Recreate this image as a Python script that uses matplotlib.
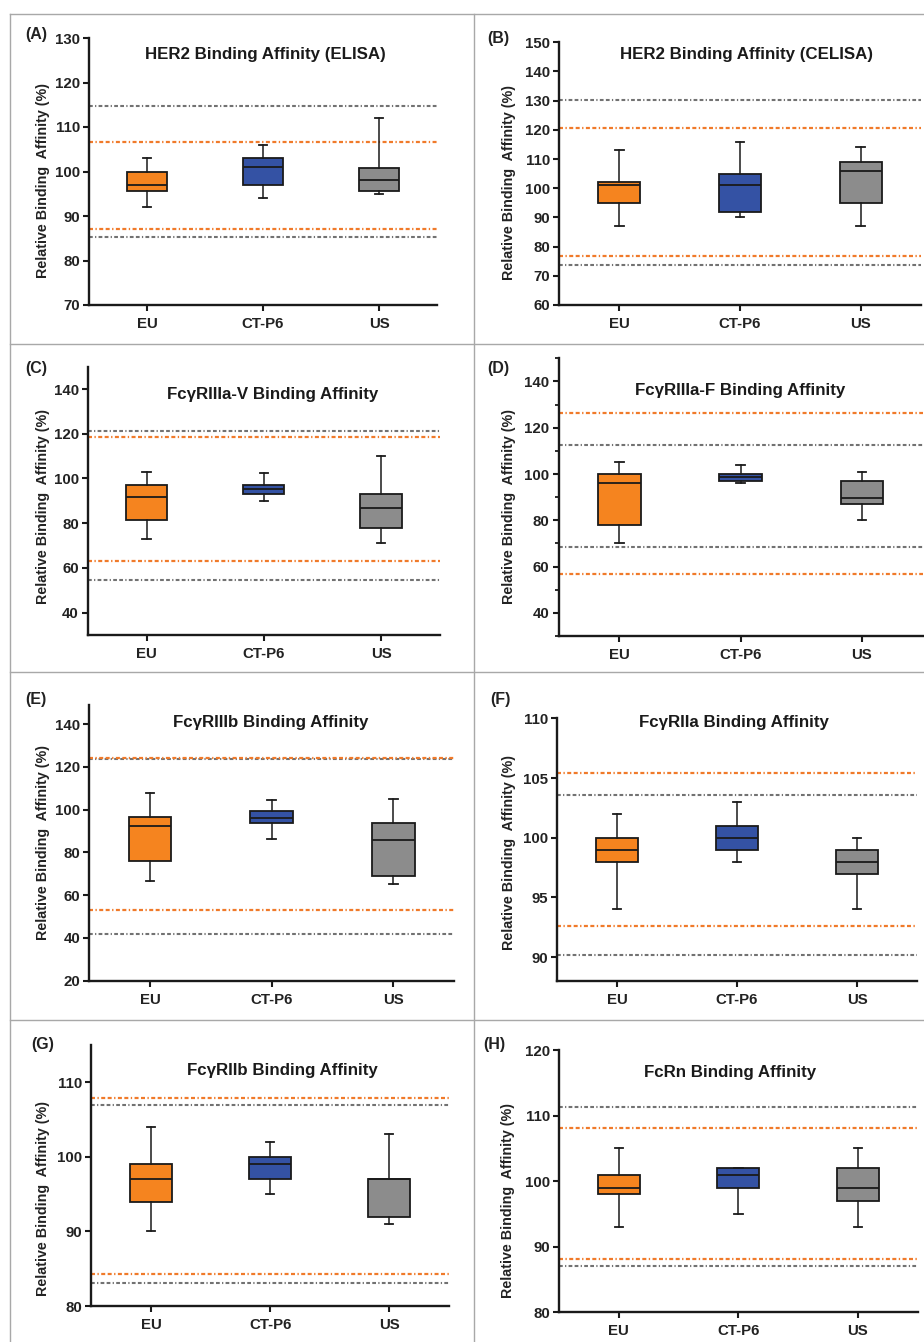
import matplotlib
matplotlib.use("Agg")
import matplotlib.pyplot as plt
from matplotlib.lines import Line2D
from matplotlib.ticker import MultipleLocator

plt.rcParams['font.family'] = ['Liberation Sans', 'DejaVu Sans']

# ---------------- data ----------------
categories = ["EU", "CT-P6", "US"]
panel_labels = ["(A)", "(B)", "(C)", "(D)", "(E)", "(F)", "(G)", "(H)"]
titles = ["HER2 Binding Affinity (ELISA)", "HER2 Binding Affinity (CELISA)",
          "Fc\u03b3RIIIa-V Binding Affinity", "Fc\u03b3RIIIa-F Binding Affinity",
          "Fc\u03b3RIIIb Binding Affinity", "Fc\u03b3RIIa Binding Affinity",
          "Fc\u03b3RIIb Binding Affinity", "FcRn Binding Affinity"]
y_label = "Relative Binding  Affinity (%)"

# box stats per category: [whisker low, Q1, median, Q3, whisker high]
stats_A = [[92, 95.7, 97, 100, 103], [94, 97, 101, 103, 106], [95, 95.7, 98, 100.8, 112]]
stats_B = [[87, 95, 101, 102, 113], [90, 92, 101, 105, 116], [87, 95, 106, 109, 114]]
stats_C = [[73, 81.5, 91.5, 97, 103], [90, 93.2, 95.1, 97, 102.5], [71, 78, 87, 93, 110]]
stats_D = [[70, 78, 96, 100, 105], [96, 97, 98.7, 100, 104], [80, 87, 89.5, 97, 101]]
stats_E = [[66.6, 76, 92.6, 96.5, 107.6], [86.5, 93.6, 96, 99.3, 104.5], [65.4, 68.8, 85.6, 93.6, 105.2]]
stats_F = [[94, 98, 99, 100, 102], [98, 99, 100, 101, 103], [94, 97, 98, 99, 100]]
stats_G = [[90, 94, 97, 99, 104], [95, 97, 99, 100, 102], [91, 92, 97, 97, 103]]
stats_H = [[93, 98, 99, 101, 105], [95, 99, 101, 102, 102], [93, 97, 99, 102, 105]]

# reference range lines (upper, lower)
orange_A = [106.7, 87.0];  gray_A = [114.7, 85.3]
orange_B = [120.8, 76.7];  gray_B = [130.2, 73.7]
orange_C = [118.4, 62.9];  gray_C = [121.2, 54.6]
orange_D = [126.4, 56.7];  gray_D = [112.5, 68.4]
orange_E = [124.3, 53.0];  gray_E = [123.6, 41.8]
orange_F = [105.4, 92.6];  gray_F = [103.6, 90.2]
orange_G = [107.85, 84.3]; gray_G = [106.9, 83.1]
orange_H = [108.1, 88.2];  gray_H = [111.3, 87.0]

all_stats = [stats_A, stats_B, stats_C, stats_D, stats_E, stats_F, stats_G, stats_H]
all_orange = [orange_A, orange_B, orange_C, orange_D, orange_E, orange_F, orange_G, orange_H]
all_gray = [gray_A, gray_B, gray_C, gray_D, gray_E, gray_F, gray_G, gray_H]

# ---------------- layout (pixels) ----------------
W, H = 924, 1342
# left, right, top, bottom of axes in pixels
ax_px = [(89, 437, 38, 305), (559, 921, 42.3, 305),
         (88, 439.6, 366.7, 635), (558.6, 922.6, 358.3, 636),
         (89.2, 454.2, 705, 980.7), (557, 917, 718.3, 981),
         (91.4, 448.9, 1045, 1306), (558.9, 917.8, 1050, 1312.3)]
ylims = [(70, 130), (60, 150), (30, 150), (30, 150), (20, 149), (88, 110), (80, 115), (80, 120)]
yticks = [range(70, 131, 10), range(60, 151, 10), range(40, 141, 20), range(40, 141, 20),
          range(20, 141, 20), range(90, 111, 5), range(80, 111, 10), range(80, 121, 10)]
minor = [None, None, None, 10, None, None, None, None]
label_px = [(36, 35), (498, 38), (36, 369), (498, 369), (36, 699), (500, 699), (43, 1045), (494, 1044)]
title_px = [(265, 55), (747, 54), (273, 394), (740, 391), (271, 722), (734, 722), (282, 1070), (730, 1072)]
ylabel_px = [(43, 180), (509, 182), (43, 507), (509, 507), (43, 842), (509, 853), (43, 1198), (508, 1200)]

box_colors = ["#F5841F", "#3452A4", "#8C8C8C"]
orange_line = "#F07A2A"
gray_line = "#727272"
ink = "#1A1A1A"

fig = plt.figure(figsize=(W / 100, H / 100), dpi=100)

# panel frame lines
frame_col = "#A8A8A8"
for yy in [13.5, 344, 672, 1020]:
    fig.add_artist(Line2D([9.5 / W, 1], [1 - yy / H, 1 - yy / H], color=frame_col, lw=1.0))
for xx in [9.5, 473.5]:
    fig.add_artist(Line2D([xx / W, xx / W], [1 - 13.5 / H, 0], color=frame_col, lw=1.0))

dash = (0, (1.8, 1.1, 0.6, 1.1, 1.8, 1.1))

for i in range(8):
    l, r, t, b = ax_px[i]
    ax = fig.add_axes([l / W, 1 - b / H, (r - l) / W, (b - t) / H])
    stats = []
    for j, cat in enumerate(categories):
        s = all_stats[i][j]
        stats.append(dict(whislo=s[0], q1=s[1], med=s[2], q3=s[3], whishi=s[4], fliers=[], label=cat))
    bp = ax.bxp(stats, positions=[0, 1, 2], widths=0.35, patch_artist=True, showfliers=False,
                capwidths=0.07,
                boxprops=dict(edgecolor=ink, linewidth=1.3),
                medianprops=dict(color=ink, linewidth=1.3),
                whiskerprops=dict(color=ink, linewidth=1.1),
                capprops=dict(color=ink, linewidth=1.3))
    for patch, c in zip(bp['boxes'], box_colors):
        patch.set_facecolor(c)
    for v in all_gray[i]:
        ax.axhline(v, color=gray_line, lw=1.5, linestyle=dash, zorder=1)
    for v in all_orange[i]:
        ax.axhline(v, color=orange_line, lw=1.6, linestyle=dash, zorder=1)

    ax.set_xlim(-0.5, 2.5)
    ax.set_ylim(*ylims[i])
    ax.set_yticks(list(yticks[i]))
    if minor[i]:
        ax.yaxis.set_minor_locator(MultipleLocator(minor[i]))
        ax.tick_params(axis='y', which='minor', length=3, width=1.3, color=ink)
    ax.set_xticks([0, 1, 2])
    ax.set_xticklabels(categories)
    for sp in ['top', 'right']:
        ax.spines[sp].set_visible(False)
    for sp in ['left', 'bottom']:
        ax.spines[sp].set_linewidth(1.7)
        ax.spines[sp].set_color(ink)
    ax.tick_params(axis='both', which='major', length=4.5, width=1.5, color=ink,
                   labelsize=10.8, labelcolor="#222222", pad=2)
    ax.tick_params(axis='x', pad=4)
    for lab in ax.get_xticklabels() + ax.get_yticklabels():
        lab.set_fontweight('bold')
    ax.set_facecolor('none')

    lx, ly = label_px[i]
    fig.text(lx / W, 1 - ly / H, panel_labels[i], fontsize=11.5, fontweight='bold',
             ha='center', va='center', color="#222222")
    tx, ty = title_px[i]
    fig.text(tx / W, 1 - ty / H, titles[i], fontsize=12.2, fontweight='bold',
             ha='center', va='center', color="#1A1A1A")
    yx, yy = ylabel_px[i]
    fig.text(yx / W, 1 - yy / H, y_label, fontsize=10.3, fontweight='bold', rotation=90,
             ha='center', va='center', color="#222222")

fig.savefig("out.png", dpi=100, facecolor='white')
